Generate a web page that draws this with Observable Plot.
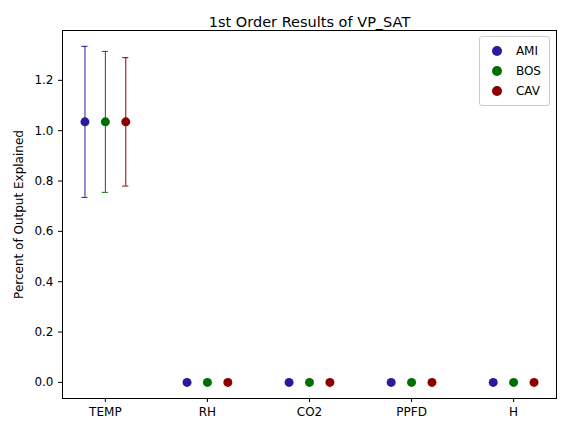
<!DOCTYPE html>
<html><head><meta charset="utf-8">
<script src="https://cdn.jsdelivr.net/npm/d3@7"></script>
<script src="https://cdn.jsdelivr.net/npm/@observablehq/plot@0.6"></script>
<style>
body{margin:0;background:#fff;font-family:"DejaVu Sans",sans-serif}
#wrap{position:relative;width:567px;height:433px}
#legend{position:absolute;right:17px;top:36px;border:1px solid #ccc;border-radius:3px;background:#fff;padding:4px 8px;font-size:12px;line-height:20px}
#legend span.d{display:inline-block;width:10px;height:10px;border-radius:50%;margin:0 14px 0 4px;vertical-align:-1px}
</style></head><body>
<div id="wrap"><div id="chart"></div><div id="legend"></div></div>
<script>
const inputs = ["TEMP", "RH", "CO2", "PPFD", "H"];
const sites = ["AMI", "BOS", "CAV"];
const colors = ["#281b9c", "#007000", "#8b0000"];
const offsets = [-0.2, 0, 0.2];
const values = {
  AMI: [1.035, 0, 0, 0, 0],
  BOS: [1.035, 0, 0, 0, 0],
  CAV: [1.035, 0, 0, 0, 0]
};
const errLow = { AMI: [0.735, 0, 0, 0, 0], BOS: [0.755, 0, 0, 0, 0], CAV: [0.78, 0, 0, 0, 0] };
const errHigh = { AMI: [1.335, 0, 0, 0, 0], BOS: [1.315, 0, 0, 0, 0], CAV: [1.29, 0, 0, 0, 0] };

const rows = sites.flatMap((s, si) => inputs.map((inp, i) => ({
  site: s, color: colors[si], x: i + offsets[si], y: values[s][i], lo: errLow[s][i], hi: errHigh[s][i]
})));
const errs = rows.filter(r => r.hi > r.lo);
const capW = 0.03;

const plot = Plot.plot({
  width: 567, height: 433,
  marginLeft: 62, marginRight: 11, marginTop: 30, marginBottom: 35,
  style: { fontFamily: '"DejaVu Sans", sans-serif', fontSize: "12px", color: "#000", background: "#fff" },
  x: { domain: [-0.42, 4.42], ticks: d3.range(inputs.length), tickFormat: i => inputs[i], label: null, tickSize: 4 },
  y: { domain: [-0.064, 1.398], ticks: d3.range(0, 1.21, 0.2), tickFormat: d3.format(".1f"), label: "Percent of Output Explained", labelAnchor: "center", labelArrow: "none", labelOffset: 48, tickSize: 4 },
  marks: [
    Plot.frame({ stroke: "#000", strokeOpacity: 1 }),
    Plot.ruleX(errs, { x: "x", y1: "lo", y2: "hi", stroke: "color", strokeWidth: 1, strokeOpacity: 1 }),
    Plot.ruleY(errs, { y: "lo", x1: d => d.x - capW, x2: d => d.x + capW, stroke: "color", strokeOpacity: 1 }),
    Plot.ruleY(errs, { y: "hi", x1: d => d.x - capW, x2: d => d.x + capW, stroke: "color", strokeOpacity: 1 }),
    Plot.dot(rows, { x: "x", y: "y", fill: "color", r: 4.5 }),
    Plot.text(["1st Order Results of VP_SAT"], { frameAnchor: "top", dy: -14, fontSize: 14.5, fill: "#000" })
  ]
});
document.getElementById("chart").append(plot);
document.getElementById("legend").innerHTML = sites.map((s, i) =>
  `<div><span class="d" style="background:${colors[i]}"></span>${s}</div>`).join("");
</script>
</body></html>
